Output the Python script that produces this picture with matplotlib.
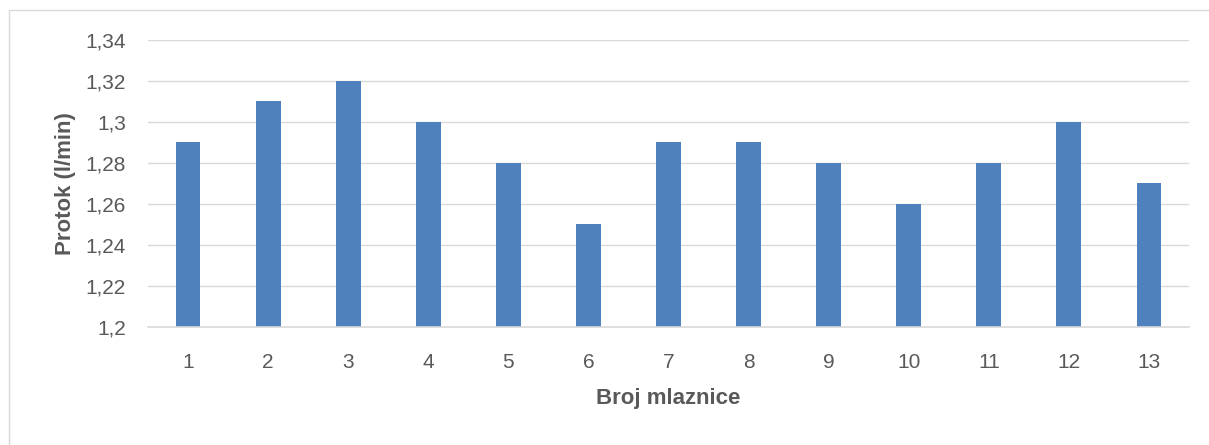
import matplotlib
matplotlib.use("Agg")
import matplotlib.pyplot as plt
from matplotlib.ticker import FuncFormatter, MultipleLocator
from matplotlib.patches import Rectangle

categories = ["1", "2", "3", "4", "5", "6", "7", "8", "9", "10", "11", "12", "13"]
values = [1.29, 1.31, 1.32, 1.30, 1.28, 1.25, 1.29, 1.29, 1.28, 1.26, 1.28, 1.30, 1.27]
xlabel = "Broj mlaznice"
ylabel = "Protok (l/min)"

plt.rcParams['font.family'] = ['Liberation Sans', 'DejaVu Sans']

W, H = 1209, 445
fig = plt.figure(figsize=(W / 100, H / 100), dpi=100)
fig.patch.set_facecolor("white")

# outer chart border
fig.patches.append(Rectangle((9 / W, -0.05), 1.5, (H - 10) / H + 0.05, transform=fig.transFigure,
                             fill=False, edgecolor="#D9D9D9", linewidth=1))

ax = fig.add_axes([148 / W, (H - 327) / H, (1189 - 148) / W, (327 - 39.5) / H])
x = list(range(len(categories)))
ax.bar(x, [v - 1.2 for v in values], bottom=1.2, width=0.31, color="#4F81BD", zorder=3)
ax.set_xlim(-0.5, len(categories) - 0.5)
ax.set_ylim(1.2, 1.34)
ax.yaxis.set_major_locator(MultipleLocator(0.02))

def fmt(v, pos):
    s = f"{v:.2f}".rstrip("0").rstrip(".")
    return s.replace(".", ",")

ax.yaxis.set_major_formatter(FuncFormatter(fmt))
ax.set_xticks(x)
ax.set_xticklabels(categories)
ax.grid(axis="y", color="#D9D9D9", linewidth=1, zorder=0)
for s in ["top", "right", "left"]:
    ax.spines[s].set_visible(False)
ax.spines["bottom"].set_color("#D9D9D9")
ax.spines["bottom"].set_linewidth(1.2)
ax.spines["bottom"].set_zorder(4)
ax.tick_params(axis="both", length=0, labelsize=15, labelcolor="#595959")
ax.tick_params(axis="y", pad=16)
ax.tick_params(axis="x", pad=19)
ax.set_xlabel(xlabel, fontsize=16, fontweight="bold", color="#595959", labelpad=11.5)
ax.set_ylabel(ylabel, fontsize=16, fontweight="bold", color="#595959", labelpad=7)

fig.savefig("out.png", dpi=100, facecolor="white")
